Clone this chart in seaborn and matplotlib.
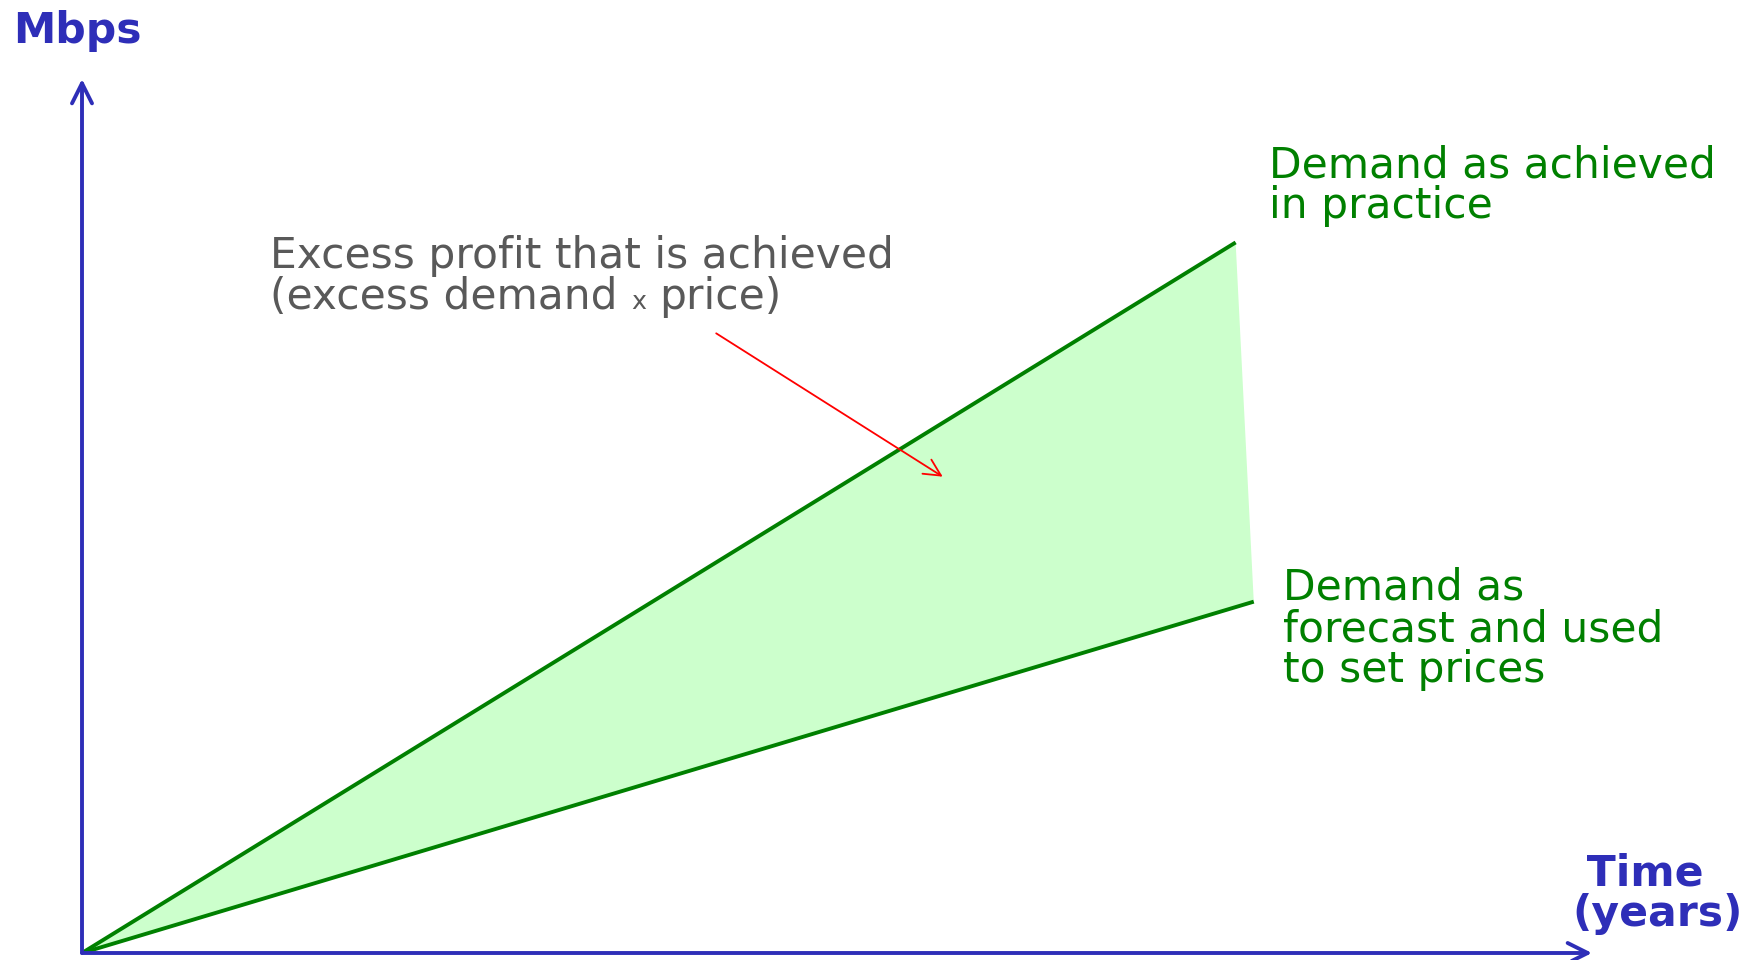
import matplotlib
matplotlib.use("Agg")
import matplotlib.pyplot as plt
from matplotlib.transforms import IdentityTransform
import seaborn as sns
import pandas as pd

# ---------------- data ----------------
years_achieved = [0.0, 7.64]
mbps_achieved = [0.0, 8.13]
years_forecast = [0.0, 7.76]
mbps_forecast = [0.0, 4.02]
x_max = 10.0
y_max = 10.0
arrow_from = (4.20, 7.09)
arrow_to = (5.70, 5.45)

y_label = "Mbps"
x_label = " Time\n(years)"
achieved_lines = ["Demand as achieved", "in practice"]
forecast_lines = ["Demand as", "forecast and used", "to set prices"]
excess_line1 = "Excess profit that is achieved"
excess_line2 = ["(excess demand", "x", "price)"]

# ---------------- style ----------------
sns.set_theme(style="white")
plt.rcParams['font.family'] = ['DejaVu Sans']

BLUE = "#2e2eb8"
GREEN = "#008000"
FILL = "#ccffcc"
RED = "#ff0000"
GREY = "#595959"

W, H = 1764, 960
fig = plt.figure(figsize=(W / 100, H / 100), dpi=100)
fig.patch.set_facecolor("white")
ax = fig.add_axes([82 / W, 7 / H, 1510 / W, 874 / H])
ax.set_xlim(0, x_max)
ax.set_ylim(0, y_max)
ax.axis("off")

# shaded excess area
ax.fill(years_achieved + years_forecast[::-1],
        mbps_achieved + mbps_forecast[::-1],
        color=FILL, lw=0, zorder=1)

df = pd.concat([
    pd.DataFrame({"years": years_achieved, "mbps": mbps_achieved, "series": "achieved"}),
    pd.DataFrame({"years": years_forecast, "mbps": mbps_forecast, "series": "forecast"}),
])
sns.lineplot(data=df, x="years", y="mbps", hue="series", units="series",
             estimator=None, palette=[GREEN, GREEN], lw=2.8, legend=False,
             ax=ax, zorder=3)
for ln in ax.lines:
    ln.set_solid_capstyle("butt")

# axes arrows
axis_props = dict(arrowstyle="->", color=BLUE, lw=2.8, mutation_scale=36,
                  shrinkA=0, shrinkB=0)
ax.annotate("", xy=(x_max, 0), xytext=(0, 0), arrowprops=axis_props,
            annotation_clip=False, zorder=4)
ax.annotate("", xy=(0, y_max), xytext=(0, 0), arrowprops=axis_props,
            annotation_clip=False, zorder=4)

# red pointer arrow
ax.annotate("", xy=arrow_to, xytext=arrow_from,
            arrowprops=dict(arrowstyle="->", color=RED, lw=1.3, mutation_scale=30,
                            shrinkA=0, shrinkB=0), zorder=5)

# ---------------- text ----------------
ID = IdentityTransform()


def ptext(x, y_top, s, va="baseline", **kw):
    """place text in pixel coordinates measured from top-left"""
    return fig.text(x, H - y_top, s, transform=ID, va=va, **kw)


FS = 30.5
ptext(13, 43, y_label, fontsize=30.6, fontweight="bold", color=BLUE)
ptext(1572, 853, x_label, va="top", fontsize=30.6, fontweight="bold",
      color=BLUE, linespacing=0.93, multialignment="left")

for i, s in enumerate(achieved_lines):
    ptext(1269, 178 + 40 * i, s, fontsize=FS, color=GREEN)
for i, s in enumerate(forecast_lines):
    ptext(1283, 600 + 41 * i, s, fontsize=FS, color=GREEN)

ptext(270, 268, excess_line1, fontsize=FS, color=GREY)
t1 = ptext(270, 309, excess_line2[0], fontsize=FS, color=GREY)
fig.canvas.draw()
r = fig.canvas.get_renderer()
gap = 0.318 * FS * 100 / 72
x1 = t1.get_window_extent(r).x1 + gap
t2 = ptext(x1, 309, excess_line2[1], fontsize=FS * 0.6, color=GREY)
fig.canvas.draw()
x2 = t2.get_window_extent(r).x1 + gap
ptext(x2, 309, excess_line2[2], fontsize=FS, color=GREY)

fig.savefig("out.png", dpi=100, facecolor="white")
